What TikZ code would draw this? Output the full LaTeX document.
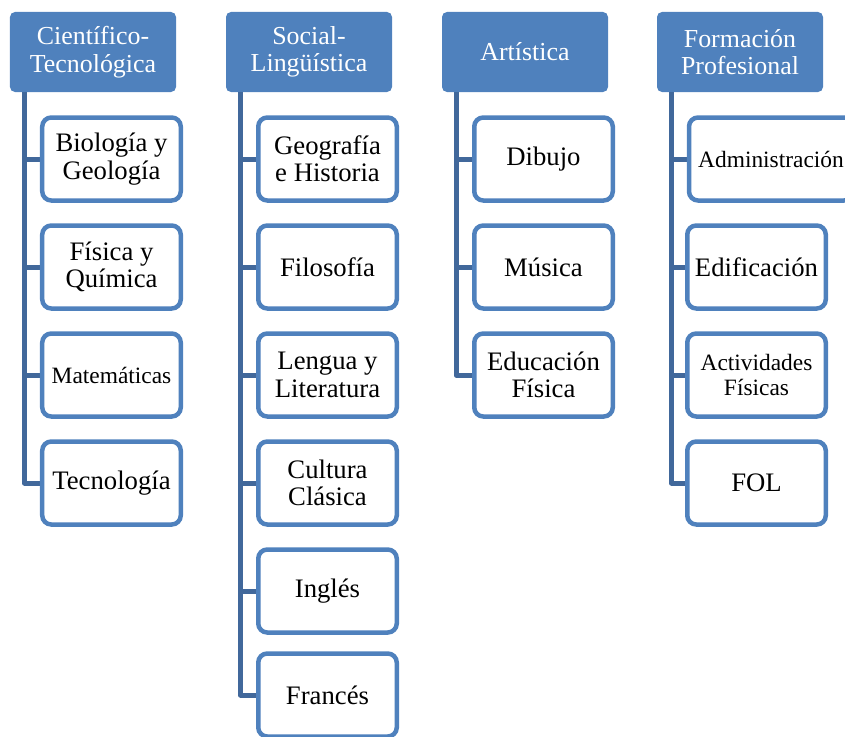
\documentclass[tikz,border=0pt]{standalone}
\usepackage{fontspec}
\setmainfont{Liberation Serif}
\definecolor{hdr}{RGB}{79,129,189}
\definecolor{chbd}{RGB}{79,129,189}
\definecolor{conn}{RGB}{65,104,155}
\tikzset{
  hdrbox/.style={fill=hdr, draw=none, rounded corners=5bp, minimum width=166bp, minimum height=80bp,
    align=center, text=white, font=\fontsize{26}{27.5}\selectfont, inner sep=0pt},
  chbox/.style={fill=white, draw=chbd, line width=4.5bp, rounded corners=9bp, minimum width=138.5bp,
    minimum height=83bp, align=center, text=black, font=\fontsize{26.8}{27.5}\selectfont, inner sep=0pt},
  smalltxt/.style={font=\fontsize{23.5}{25}\selectfont},
  connline/.style={draw=conn, line width=5bp, line join=round}
}
\begin{document}
\begin{tikzpicture}[x=1bp,y=-1bp]
\useasboundingbox (0,0) rectangle (845,737);
\clip (0,0) rectangle (845,737);
% headers
\node[hdrbox] (h1) at (93,52) {Científico-\\Tecnológica};
\node[hdrbox] (h2) at (309,52) {Social-\\Lingüística};
\node[hdrbox] (h3) at (525,52) {Artística};
\node[hdrbox] (h4) at (740,52) {Formación\\Profesional};
% bar tops
\coordinate (b1) at (24.5,92);
\coordinate (b2) at (240.5,92);
\coordinate (b3) at (456,92);
\coordinate (b4) at (671.5,92);
% column 1 children
\coordinate (p11) at (111.5,159);
\coordinate (p12) at (111.5,267);
\coordinate (p13) at (111.5,375);
\coordinate (p14) at (111.5,483);
% column 2
\coordinate (p21) at (327.5,159);
\coordinate (p22) at (327.5,267);
\coordinate (p23) at (327.5,375);
\coordinate (p24) at (327.5,483);
\coordinate (p25) at (327.5,591);
\coordinate (p26) at (327.5,695);
% column 3
\coordinate (p31) at (543.5,159);
\coordinate (p32) at (543.5,267);
\coordinate (p33) at (543.5,375);
% column 4
\coordinate (p42) at (756.5,267);
\coordinate (p43) at (756.5,375);
\coordinate (p44) at (756.5,483);
% connectors
\draw[connline] (b1) |- (p14);
\foreach \i in {1,2,3} \draw[connline] (b1 |- p1\i) -- (p1\i);
\draw[connline] (b2) |- (p26);
\foreach \i in {1,...,5} \draw[connline] (b2 |- p2\i) -- (p2\i);
\draw[connline] (b3) |- (p33);
\foreach \i in {1,2} \draw[connline] (b3 |- p3\i) -- (p3\i);
\draw[connline] (b4) |- (p44);
\foreach \i in {2,3} \draw[connline] (b4 |- p4\i) -- (p4\i);
\draw[connline] (b4 |- 0,159) -- (700,159);
% children col 1
\node[chbox] (c11) at (p11) {Biología y\\Geología};
\node[chbox] (c12) at (p12) {Física y\\Química};
\node[chbox,smalltxt] (c13) at (p13) {Matemáticas};
\node[chbox] (c14) at (p14) {Tecnología};
% col 2
\node[chbox] (c21) at (p21) {Geografía\\e Historia};
\node[chbox] (c22) at (p22) {Filosofía};
\node[chbox] (c23) at (p23) {Lengua y\\Literatura};
\node[chbox] (c24) at (p24) {Cultura\\Clásica};
\node[chbox] (c25) at (p25) {Inglés};
\node[chbox] (c26) at (p26) {Francés};
% col 3
\node[chbox] (c31) at (p31) {Dibujo};
\node[chbox] (c32) at (p32) {Música};
\node[chbox] (c33) at (p33) {Educación\\Física};
% col 4
\node[chbox,smalltxt,minimum width=164bp] (c41) at (771,159) {Administración};
\node[chbox] (c42) at (p42) {Edificación};
\node[chbox,smalltxt] (c43) at (p43) {Actividades\\Físicas};
\node[chbox] (c44) at (p44) {FOL};
\end{tikzpicture}
\end{document}
